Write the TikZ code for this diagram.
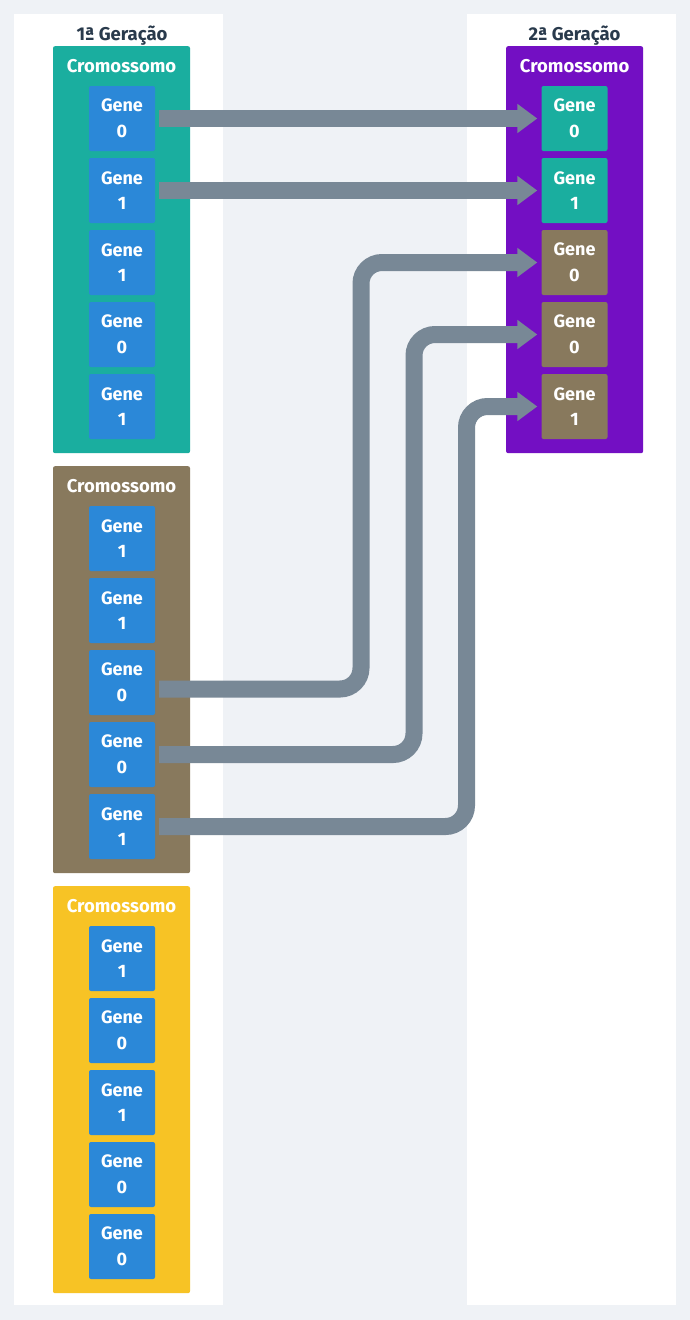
\documentclass[tikz,border=0pt]{standalone}
\usepackage{fontspec}
\setmainfont{Fira Sans}
\usetikzlibrary{arrows.meta}
\definecolor{bg}{HTML}{EFF2F6}
\definecolor{teal}{HTML}{1AAE9F}
\definecolor{geneblue}{HTML}{2B88D8}
\definecolor{brown}{HTML}{88795D}
\definecolor{purple}{HTML}{730FC3}
\definecolor{yellow}{HTML}{F7C325}
\definecolor{arrowgray}{HTML}{788896}
\definecolor{titlecol}{HTML}{293A4C}
\tikzset{
  panel/.style={fill=white, draw=none},
  chrom/.style={rounded corners=2pt, minimum width=137pt, minimum height=407pt, inner sep=0pt, draw=none},
  chromlabel/.style={text=white, font=\bfseries\fontsize{18.5}{22}\selectfont, anchor=base, inner sep=0pt},
  gene/.style={rounded corners=2pt, minimum width=66pt, minimum height=65pt, inner sep=0pt, text=white, align=center, font=\bfseries\fontsize{18}{25.6}\selectfont, fill=geneblue},
  title/.style={text=titlecol, font=\bfseries\fontsize{18.5}{22}\selectfont, anchor=base, inner sep=0pt},
  conn/.style={draw=arrowgray, line width=17pt, rounded corners=21pt, -{Triangle[length=20pt,width=28pt]}, shorten >=4pt},
}
\begin{document}
\begin{tikzpicture}[x=1pt,y=-1pt]
\fill[bg] (0,0) rectangle (690,1320);
\useasboundingbox (0,0) rectangle (690,1320);
% panels
\fill[panel] (14,14) rectangle (223,1305);
\fill[panel] (466.5,14) rectangle (676,1305);
\node[title] (t1) at (122,40) {1ª Geração};
\node[title] (t2) at (574.5,40) {2ª Geração};
% chromosome boxes
\node[chrom, fill=teal, anchor=north] (cA) at (121.5,46) {};
\node[chrom, fill=brown, anchor=north] (cB) at (121.5,466) {};
\node[chrom, fill=yellow, anchor=north] (cC) at (121.5,886) {};
\node[chrom, fill=purple, anchor=north] (cN) at (574.6,46) {};
\node[chromlabel] (lA) at (121.5,72.7) {Cromossomo};
\node[chromlabel] (lB) at (121.5,492.7) {Cromossomo};
\node[chromlabel] (lC) at (121.5,912.7) {Cromossomo};
\node[chromlabel] (lN) at (574.6,72.7) {Cromossomo};
% genes of chromosome A
\node[gene] (a1) at (122,118.5) {Gene\\0};
\node[gene] (a2) at (122,190.5) {Gene\\1};
\node[gene] (a3) at (122,262.5) {Gene\\1};
\node[gene] (a4) at (122,334.5) {Gene\\0};
\node[gene] (a5) at (122,406.5) {Gene\\1};
% genes of chromosome B
\node[gene] (b1) at (122,538.5) {Gene\\1};
\node[gene] (b2) at (122,610.5) {Gene\\1};
\node[gene] (b3) at (122,682.5) {Gene\\0};
\node[gene] (b4) at (122,754.5) {Gene\\0};
\node[gene] (b5) at (122,826.5) {Gene\\1};
% genes of chromosome C
\node[gene] (c1) at (122,958.5) {Gene\\1};
\node[gene] (c2) at (122,1030.5) {Gene\\0};
\node[gene] (c3) at (122,1102.5) {Gene\\1};
\node[gene] (c4) at (122,1174.5) {Gene\\0};
\node[gene] (c5) at (122,1246.5) {Gene\\0};
% genes of new chromosome
\node[gene, fill=teal] (n1) at (574.5,118.5) {Gene\\0};
\node[gene, fill=teal] (n2) at (574.5,190.5) {Gene\\1};
\node[gene, fill=brown] (n3) at (574.5,262.5) {Gene\\0};
\node[gene, fill=brown] (n4) at (574.5,334.5) {Gene\\0};
\node[gene, fill=brown] (n5) at (574.5,406.5) {Gene\\1};
% routing coordinates
\coordinate (v1) at (361,0);
\coordinate (v2) at (414,0);
\coordinate (v3) at (466.5,0);
% connectors
\draw[conn] ([xshift=4pt]a1.east) -- (n1.west);
\draw[conn] ([xshift=4pt]a2.east) -- (n2.west);
\draw[conn] ([xshift=4pt,yshift=-6.5pt]b3.east) -| (v1 |- n3.west) -- (n3.west);
\draw[conn] ([xshift=4pt]b4.east) -| (v2 |- n4.west) -- (n4.west);
\draw[conn] ([xshift=4pt]b5.east) -| (v3 |- n5.west) -- (n5.west);
\end{tikzpicture}
\end{document}
